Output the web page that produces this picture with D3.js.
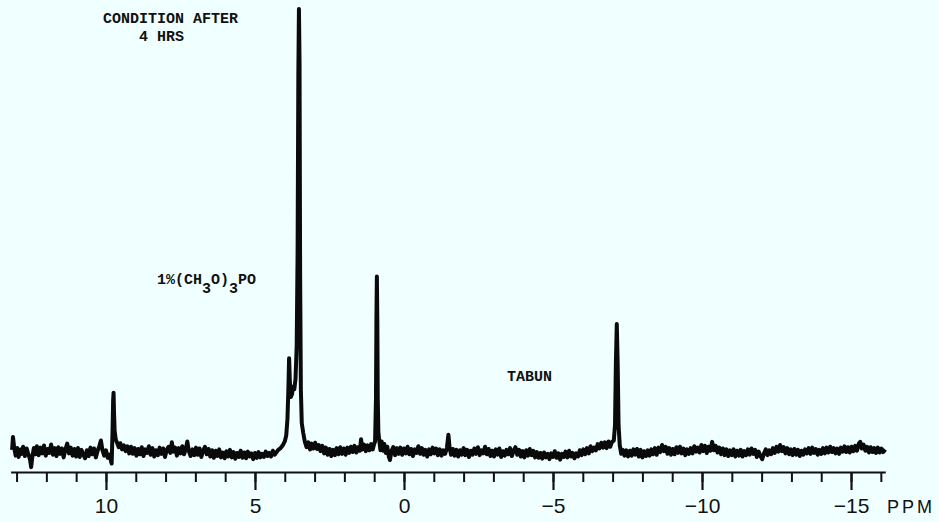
<!DOCTYPE html>
<html>
<head>
<meta charset="utf-8">
<script src="https://cdn.jsdelivr.net/npm/d3@7"></script>
<style>
  html, body { margin: 0; padding: 0; background: #f0ffff; }
  svg { display: block; }
  .mono { font-family: "Liberation Mono", "DejaVu Sans Mono", monospace; font-size: 15px; font-weight: bold; fill: #111; }
  .axis text { font-family: "Liberation Sans", Arial, sans-serif; font-size: 21px; fill: #111; }
  .axis path, .axis line { stroke: #111; }
</style>
</head>
<body>
<svg id="chart" width="939" height="522"></svg>
<script>
// tick marks on the ppm axis
var majorTicks = [10, 5, 0, -5, -10, -15];
var minorTicks = [13, 12, 11, 10, 9, 8, 7, 6, 5, 4, 3, 2, 1, 0, -1, -2, -3, -4, -5, -6, -7,
                  -8, -9, -10, -11, -12, -13, -14, -15, -16];

// trace, [ppm, relative intensity] (main peak = 100)
var spectrum = [
  [13.15, 0.5], [13.12, 3.4], [13.08, 1.0], [13.03, -0.8], [12.98, 0.9], [12.93, -1.1], [12.88, 0.6],
  [12.83, -0.4], [12.78, 1.2], [12.72, -0.9], [12.66, 0.8], [12.60, -0.6], [12.55, -1.6], [12.51, -3.4],
  [12.47, -1.0], [12.42, 0.9], [12.37, -0.5], [12.32, 1.3], [12.26, -0.7], [12.20, 1.0], [12.14, -0.3],
  [12.08, 1.5], [12.02, -0.8], [11.96, 0.7], [11.90, -0.2], [11.84, 1.7], [11.78, -0.6], [11.72, 0.9],
  [11.66, -0.9], [11.60, 1.1], [11.54, -0.4], [11.48, 0.8], [11.42, -1.2], [11.36, 0.6], [11.30, 1.9],
  [11.24, -0.3], [11.18, 1.0], [11.12, -0.8], [11.06, 0.7], [11.00, -1.0], [10.94, 0.9], [10.88, -1.1],
  [10.82, 0.5], [10.76, -0.6], [10.70, -1.4], [10.64, 0.4], [10.58, -0.9], [10.52, 1.0], [10.46, -0.5],
  [10.40, 0.8], [10.34, -1.2], [10.28, 0.3], [10.22, 1.4], [10.17, 2.6], [10.12, 0.5], [10.06, -0.8],
  [10.00, 0.4], [9.94, -1.3], [9.88, -0.6], [9.84, -1.8], [9.81, -2.6],
  [9.78, 4.5], [9.76, 11.5], [9.745, 13.4], [9.73, 9.0], [9.71, 4.8], [9.67, 2.8], [9.62, 2.0],
  [9.57, 1.1], [9.52, 2.0], [9.46, 0.6], [9.40, 1.5], [9.34, 0.2], [9.28, 1.3], [9.22, -0.3],
  [9.16, 1.2], [9.10, -0.4], [9.04, 0.9], [8.98, -0.8], [8.92, 0.7], [8.86, -0.5], [8.80, 1.1],
  [8.74, -0.9], [8.68, 0.6], [8.62, -0.2], [8.56, 1.3], [8.50, -0.6], [8.44, 0.9], [8.38, -1.0],
  [8.32, 0.4], [8.26, -0.7], [8.20, 1.0], [8.14, -0.4], [8.08, 0.8], [8.02, -1.1], [7.96, 0.5],
  [7.90, 1.2], [7.84, -0.2], [7.79, 2.2], [7.74, 0.1], [7.68, 1.0], [7.62, -0.8], [7.56, 0.9],
  [7.50, -0.3], [7.44, 1.3], [7.38, -0.5], [7.32, 0.7], [7.27, 2.4], [7.22, 0.2], [7.16, -0.9],
  [7.10, 0.6], [7.04, -0.7], [6.98, 1.0], [6.92, -0.6], [6.86, 0.8], [6.80, -1.1], [6.74, 0.3],
  [6.68, 1.2], [6.62, -0.5], [6.56, 0.7], [6.50, -1.0], [6.44, 0.4], [6.38, -1.3], [6.32, 0.3],
  [6.26, -0.9], [6.20, 0.6], [6.14, -1.2], [6.08, -0.1], [6.02, -1.4], [5.96, 0.2], [5.90, -1.0],
  [5.84, 0.5], [5.78, -1.2], [5.72, 0.0], [5.66, -1.5], [5.60, -0.2], [5.54, -1.1], [5.48, 0.3],
  [5.42, -1.3], [5.36, -0.1], [5.30, -1.4], [5.24, 0.1], [5.18, -1.0], [5.12, -0.3], [5.06, -1.6],
  [5.00, -0.2], [4.94, -1.3], [4.88, 0.0], [4.82, -1.2], [4.76, -0.4], [4.70, -1.1], [4.64, 0.1],
  [4.58, -0.9], [4.52, -0.2], [4.46, -1.0], [4.40, 0.3], [4.34, -0.6],
  [4.22, 0.5], [4.14, 0.9], [4.06, 1.6], [4.00, 2.4], [3.95, 3.8], [3.91, 7.5], [3.88, 14.0],
  [3.855, 21.2], [3.83, 16.0], [3.80, 12.4], [3.76, 13.0], [3.72, 14.8], [3.68, 14.2], [3.64, 16.5],
  [3.60, 24.0], [3.57, 45.0], [3.545, 85.0], [3.525, 100], [3.505, 88.0], [3.485, 40.0], [3.46, 14.0],
  [3.43, 6.5], [3.38, 4.3], [3.33, 2.4], [3.27, 1.1], [3.21, 2.2], [3.15, 0.6], [3.10, 1.9],
  [3.04, 0.8], [2.98, 2.1], [2.92, 0.7], [2.86, 1.6], [2.80, 0.2], [2.74, 1.4], [2.68, -0.3],
  [2.62, 1.0], [2.56, -0.6], [2.50, 0.7], [2.44, -0.9], [2.38, 0.5], [2.32, -0.7], [2.26, 0.9],
  [2.20, -0.5], [2.14, 1.1], [2.08, -0.4], [2.02, 0.8], [1.96, -0.6], [1.90, 1.0], [1.84, -0.2],
  [1.78, 1.2], [1.72, 0.0], [1.66, 1.4], [1.60, -0.1], [1.54, 1.1], [1.48, 0.3], [1.44, 2.9],
  [1.40, 0.6], [1.34, 1.7], [1.28, 0.2], [1.22, 1.5], [1.16, 0.4], [1.10, 1.8], [1.05, 0.6],
  [1.00, 1.9], [0.97, 2.4], [0.94, 12], [0.925, 30], [0.91, 39.6], [0.895, 30], [0.88, 12],
  [0.86, 4.5], [0.83, 2.6], [0.79, 0.4], [0.75, 2.4], [0.70, 0.3], [0.66, 1.8],
  [0.61, -0.2], [0.56, 1.2], [0.51, -1.0], [0.47, -1.8], [0.42, 0.2], [0.36, 1.1], [0.30, -0.7],
  [0.24, 0.9], [0.18, -0.4], [0.12, 1.0], [0.06, -0.6], [0.00, 0.8], [-0.06, -0.3], [-0.12, 1.2],
  [-0.18, -0.5], [-0.24, 0.7], [-0.30, -0.9], [-0.36, 0.6], [-0.42, -0.2], [-0.48, 1.3], [-0.54, -0.4],
  [-0.60, 0.9], [-0.66, -0.6], [-0.72, 0.5], [-0.78, -1.0], [-0.84, 0.6], [-0.90, -0.5], [-0.96, 1.0],
  [-1.02, -0.3], [-1.08, 0.8], [-1.14, -0.7], [-1.20, 0.6], [-1.26, -0.8], [-1.32, 0.4], [-1.38, -0.4],
  [-1.44, 0.9], [-1.49, 3.9], [-1.53, 1.0], [-1.58, -0.6], [-1.64, 0.7], [-1.70, -0.8], [-1.76, 0.5],
  [-1.82, -1.0], [-1.88, 0.4], [-1.94, -0.6], [-2.00, 0.9], [-2.06, -0.7], [-2.12, 0.5], [-2.18, -1.1],
  [-2.24, 0.3], [-2.30, -0.6], [-2.36, 0.8], [-2.42, -0.4], [-2.48, 1.1], [-2.54, -0.7], [-2.60, 0.4],
  [-2.66, -0.3], [-2.72, 1.2], [-2.78, -0.5], [-2.84, 0.7], [-2.90, -0.9], [-2.96, 0.3], [-3.02, -1.0],
  [-3.08, 0.6], [-3.14, -0.6], [-3.20, 0.8], [-3.26, -1.1], [-3.32, 0.2], [-3.38, -0.8], [-3.44, 0.5],
  [-3.50, -0.5], [-3.56, 0.9], [-3.62, -0.9], [-3.68, 0.3], [-3.74, 1.1], [-3.80, -0.6], [-3.86, 0.5],
  [-3.92, -1.0], [-3.98, 0.2], [-4.04, -1.2], [-4.10, 0.4], [-4.16, -0.8], [-4.22, 0.7], [-4.28, -0.7],
  [-4.34, 0.3], [-4.40, -1.2], [-4.46, 0.0], [-4.52, -1.3], [-4.58, -0.2], [-4.64, -1.5], [-4.70, -0.1],
  [-4.76, -1.2], [-4.82, -0.4], [-4.88, -1.6], [-4.94, -0.3], [-5.00, -1.1], [-5.06, 0.2], [-5.12, -1.3],
  [-5.18, -0.3], [-5.24, -1.7], [-5.30, -0.4], [-5.36, -1.1], [-5.42, 0.1], [-5.48, -1.2], [-5.54, 0.3],
  [-5.60, -1.0], [-5.66, -0.2], [-5.72, -1.4], [-5.78, -0.3], [-5.84, -1.0], [-5.90, 0.4], [-5.96, -0.7],
  [-6.02, 0.6], [-6.08, -0.5], [-6.14, 0.9], [-6.20, -0.3], [-6.26, 1.3], [-6.32, 0.2], [-6.38, 1.0],
  [-6.44, 0.4], [-6.50, 1.8], [-6.56, 0.8], [-6.62, 2.1], [-6.68, 1.0], [-6.74, 2.2], [-6.80, 0.9],
  [-6.86, 2.4], [-6.92, 1.2], [-6.98, 2.3], [-7.04, 2.6], [-7.08, 6.0], [-7.11, 20], [-7.14, 28.9],
  [-7.17, 20], [-7.20, 6.0], [-7.24, 1.5], [-7.29, -0.4], [-7.34, 0.5], [-7.40, -0.8],
  [-7.46, 0.4], [-7.52, -1.0], [-7.58, 0.3], [-7.64, -0.8], [-7.70, 0.6], [-7.76, -0.6], [-7.82, 0.7],
  [-7.88, -1.0], [-7.94, 0.5], [-8.00, -1.2], [-8.06, 0.2], [-8.12, -0.9], [-8.18, 0.4], [-8.24, -0.8],
  [-8.30, 0.6], [-8.36, -0.5], [-8.42, 0.9], [-8.48, -0.6], [-8.54, 1.0], [-8.60, 0.0], [-8.66, 1.6],
  [-8.72, 0.2], [-8.78, 1.2], [-8.84, -0.4], [-8.90, 0.9], [-8.96, -0.6], [-9.02, 0.7], [-9.08, -0.5],
  [-9.14, 1.1], [-9.20, -0.2], [-9.26, 1.2], [-9.32, -0.3], [-9.38, 0.8], [-9.44, -0.7], [-9.50, 0.6],
  [-9.56, -0.4], [-9.62, 0.9], [-9.68, -0.3], [-9.74, 1.3], [-9.80, 0.1], [-9.86, 1.0], [-9.92, -0.1],
  [-9.98, 1.6], [-10.04, 0.2], [-10.10, 1.4], [-10.16, -0.2], [-10.22, 1.2], [-10.28, 0.3], [-10.34, 2.3],
  [-10.40, 0.4], [-10.46, 1.4], [-10.52, -0.1], [-10.58, 1.0], [-10.64, -0.5], [-10.70, 0.8], [-10.76, -0.7],
  [-10.82, 0.6], [-10.88, -0.9], [-10.94, 0.4], [-11.00, -0.7], [-11.06, 0.6], [-11.12, -1.0], [-11.18, 0.3],
  [-11.24, -0.8], [-11.30, 0.5], [-11.36, -1.0], [-11.42, 0.2], [-11.48, -0.7], [-11.54, 0.6], [-11.60, -0.6],
  [-11.66, 0.8], [-11.72, -0.4], [-11.78, 0.5], [-11.84, -1.1], [-11.90, 0.1], [-11.96, -0.9], [-12.02, -1.6],
  [-12.08, -0.3], [-12.14, 0.6], [-12.20, -0.7], [-12.26, 0.4], [-12.32, -0.5], [-12.38, 0.9], [-12.44, -0.2],
  [-12.50, 1.2], [-12.56, 0.1], [-12.62, 1.6], [-12.68, 0.2], [-12.74, 1.1], [-12.80, -0.3], [-12.86, 0.9],
  [-12.92, -0.5], [-12.98, 0.6], [-13.04, -0.7], [-13.10, 0.7], [-13.16, -0.6], [-13.22, 0.5], [-13.28, -0.9],
  [-13.34, 0.3], [-13.40, -0.6], [-13.46, 0.6], [-13.52, -0.3], [-13.58, 0.9], [-13.64, -0.4], [-13.70, 1.0],
  [-13.76, -0.2], [-13.82, 0.7], [-13.88, -0.6], [-13.94, 0.5], [-14.00, -0.4], [-14.06, 0.9], [-14.12, -0.3],
  [-14.18, 1.0], [-14.24, -0.1], [-14.30, 1.2], [-14.36, 0.0], [-14.42, 0.9], [-14.48, -0.3], [-14.54, 0.8],
  [-14.60, -0.4], [-14.66, 1.0], [-14.72, 0.1], [-14.78, 1.3], [-14.84, 0.0], [-14.90, 1.1], [-14.96, -0.1],
  [-15.02, 1.2], [-15.08, 0.2], [-15.14, 1.4], [-15.20, 0.3], [-15.26, 1.9], [-15.31, 2.3], [-15.36, 0.8],
  [-15.42, 1.7], [-15.48, 0.3], [-15.54, 1.2], [-15.60, -0.1], [-15.66, 1.1], [-15.72, 0.0], [-15.78, 0.9],
  [-15.84, -0.2], [-15.90, 1.0], [-15.96, -0.1], [-16.02, 0.8], [-16.08, 0.0], [-16.15, 0.6]
];

var svg = d3.select('#chart');

var x = d3.scaleLinear().domain([13.2, -16.15]).range([10.6, 885.3]);
var y = d3.scaleLinear().domain([-4.5, 100]).range([472, 9]);

function fmt(d) { return d < 0 ? '\u2212' + (-d) : String(d); }

// minor ticks first, major ticks (with labels) on top
svg.append('g')
    .attr('class', 'axis')
    .attr('transform', 'translate(0,472)')
    .call(d3.axisBottom(x).tickValues(minorTicks).tickSize(10).tickSizeOuter(0).tickFormat(''))
    .call(function(g) {
        g.select('.domain').attr('stroke-width', 2.2);
        g.selectAll('.tick line').attr('stroke-width', 2);
    });

svg.append('g')
    .attr('class', 'axis')
    .attr('transform', 'translate(0,472)')
    .call(d3.axisBottom(x).tickValues(majorTicks).tickSize(18).tickSizeOuter(0)
            .tickPadding(8).tickFormat(fmt))
    .call(function(g) {
        g.select('.domain').remove();
        g.selectAll('.tick line').attr('stroke-width', 2.2);
    });

svg.append('text')
    .attr('x', 887).attr('y', 513)
    .style('font-family', '"Liberation Sans", Arial, sans-serif')
    .style('font-size', '18px')
    .style('letter-spacing', '3px')
    .attr('fill', '#111')
    .text('PPM');

var line = d3.line()
    .x(function(d) { return x(d[0]); })
    .y(function(d) { return y(d[1]); });

svg.append('path')
    .datum(spectrum)
    .attr('d', line)
    .attr('fill', 'none')
    .attr('stroke', '#0a0a0a')
    .attr('stroke-width', 4)
    .attr('stroke-linejoin', 'round')
    .attr('stroke-linecap', 'butt');

// typed annotations
svg.append('text').attr('class', 'mono')
    .attr('x', 103).attr('y', 23)
    .text('CONDITION AFTER');
svg.append('text').attr('class', 'mono')
    .attr('x', 139).attr('y', 41)
    .text('4 HRS');

var formula = svg.append('text').attr('class', 'mono').attr('x', 157).attr('y', 284);
formula.append('tspan').text('1%(CH');
formula.append('tspan').attr('dy', 9).text('3');
formula.append('tspan').attr('dy', -9).text('O)');
formula.append('tspan').attr('dy', 9).text('3');
formula.append('tspan').attr('dy', -9).text('PO');

svg.append('text').attr('class', 'mono')
    .attr('x', 507).attr('y', 381)
    .text('TABUN');
</script>
</body>
</html>
